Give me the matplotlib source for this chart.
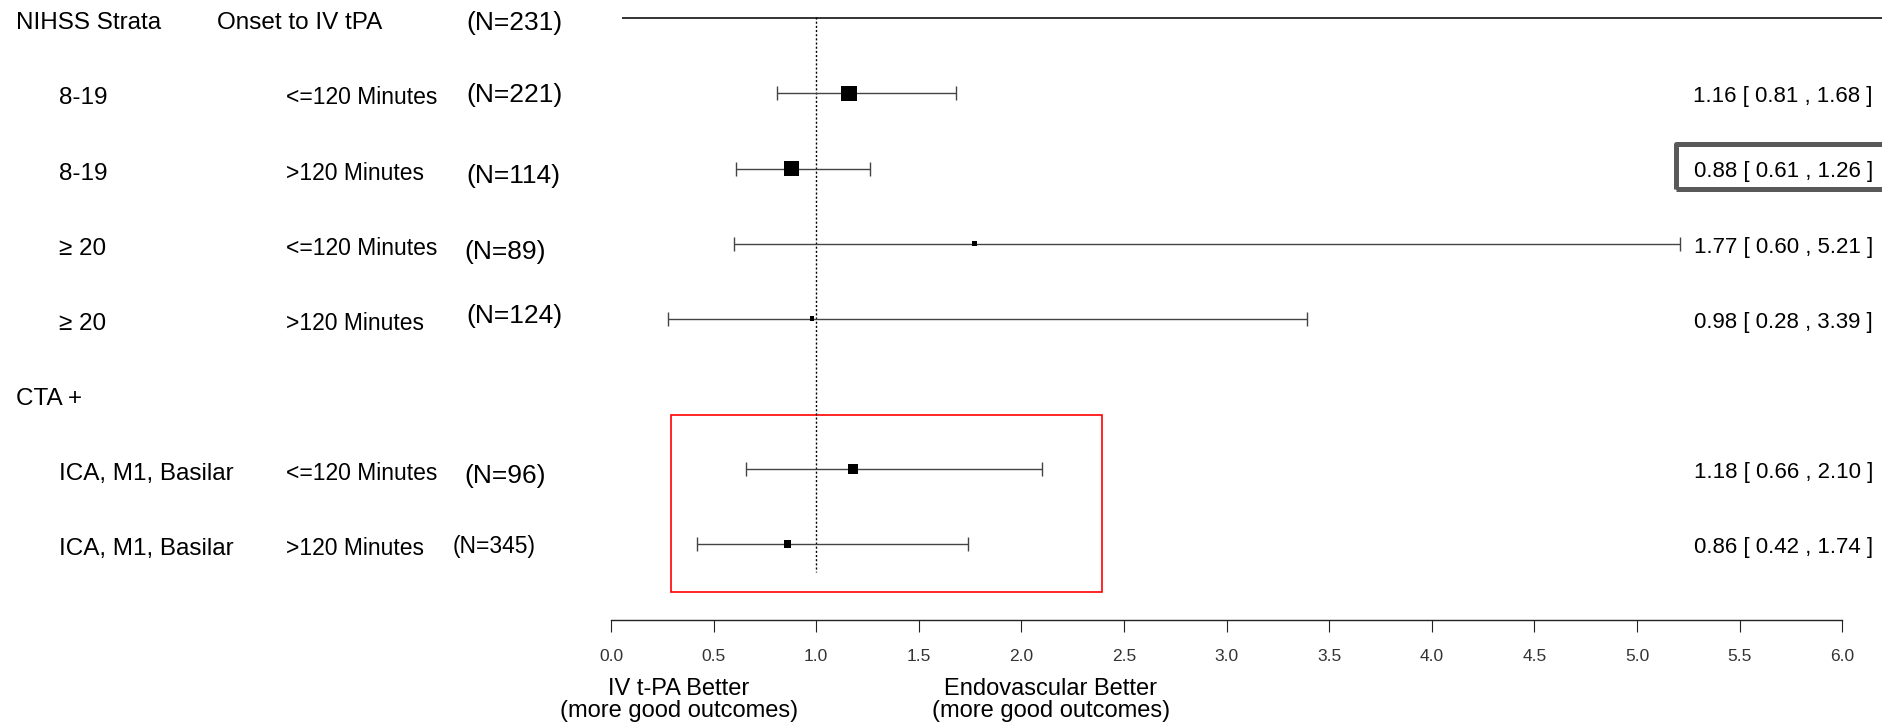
import numpy as np
import matplotlib.pyplot as plt
from matplotlib.patches import Rectangle
from matplotlib.transforms import Bbox, TransformedBbox, blended_transform_factory

plt.rcParams['font.family'] = ['Liberation Sans', 'DejaVu Sans']

## table columns
strata = ['8-19', '8-19', '\u2265 20', '\u2265 20', 'ICA, M1, Basilar', 'ICA, M1, Basilar']
onset = ['<=120 Minutes', '>120 Minutes', '<=120 Minutes', '>120 Minutes',
         '<=120 Minutes', '>120 Minutes']
n_labels = ['(N=221)', '(N=114)', '(N=89)', '(N=124)', '(N=96)', '(N=345)']
rows = [1, 2, 3, 4, 6, 7]

## odds ratios and 95% CI
est = [1.16, 0.88, 1.77, 0.98, 1.18, 0.86]
lo = [0.81, 0.61, 0.60, 0.28, 0.66, 0.42]
hi = [1.68, 1.26, 5.21, 3.39, 2.10, 1.74]

xticks = np.arange(0, 6.01, 0.5)

# layout (pixels of a 1883x728 canvas)
W, H = 1883, 728
x0_px, unit_px = 611, 205.2   # where 0 sits, px per unit
row0_px, row_px = 18.3, 75.1  # first row center, row spacing
n_dy = [8.4, 14.3, 15.7, 4.8, 13.9, 8.9]  # the N labels wander a bit
n_size = [19, 19, 19, 19, 19, 16.5]
n_x = [466, 466, 464, 466, 464, 453]

fig = plt.figure(figsize=(W / 100, H / 100), dpi=100)
ax = fig.add_axes([0, 0, 1, 1])
ax.set_xlim(-x0_px / unit_px, (W - x0_px) / unit_px)
ax.set_ylim((H - row0_px) / row_px, -row0_px / row_px)

def px2row(dy):
  return dy / row_px

trans = blended_transform_factory(fig.transFigure, ax.transData)
base = px2row(11.0)

## header
ax.text(15.6 / W, 0 + base, 'NIHSS Strata', transform=trans, fontsize=17.5, va='baseline')
ax.text(217 / W, 0 + base, 'Onset to IV tPA', transform=trans, fontsize=17.5, va='baseline')
ax.text(466 / W, 0 + px2row(11.8), '(N=231)', transform=trans, fontsize=19, va='baseline')
ax.text(15.6 / W, 5 + base, 'CTA +', transform=trans, fontsize=17.5, va='baseline')

# onset column gets cut off like in the original table
clip = TransformedBbox(Bbox([[0, 0], [446.5 / W, 1]]), fig.transFigure)

for i, r in enumerate(rows):
  ax.text(59 / W, r + base, strata[i], transform=trans, fontsize=17.5, va='baseline')
  t = ax.text(286 / W, r + base, onset[i], transform=trans, fontsize=16.5, va='baseline')
  t.set_clip_box(clip)
  t.set_clip_on(True)
  ax.text(n_x[i] / W, r + px2row(n_dy[i]), n_labels[i], transform=trans,
          fontsize=n_size[i], va='baseline')
  ax.text(1873 / W, r + px2row(9), '%.2f [ %.2f , %.2f ]' % (est[i], lo[i], hi[i]),
          transform=trans, fontsize=16, va='baseline', ha='right')

## overall line on top and the reference line
ax.plot([0.054, 6.5], [0, 0], color='#333333', lw=1.4, solid_capstyle='butt')
ax.plot([1, 1], [-0.02, px2row(572 - row0_px)], color='black', lw=1, ls=(0, (1.5, 1.5)))

## CIs and boxes (box size ~ 1/CI width like metafor)
est_a, lo_a, hi_a = np.array(est), np.array(lo), np.array(hi)
ax.errorbar(est_a, rows, xerr=[est_a - lo_a, hi_a - est_a], fmt='none',
            ecolor='#444444', elinewidth=1.0, capsize=4.7, capthick=1.0)
side_px = 11.2 / np.log(hi_a / lo_a)
ax.scatter(est_a, rows, marker='s', s=(side_px * 0.72) ** 2, color='black',
           linewidths=0, zorder=3)

## x axis
for s in ['left', 'right', 'top']:
  ax.spines[s].set_visible(False)
ax.spines['bottom'].set_position(('data', px2row(620 - row0_px)))
ax.spines['bottom'].set_bounds(0, 6)
ax.spines['bottom'].set_color('#222222')
ax.spines['bottom'].set_linewidth(1.0)
ax.set_xticks(xticks)
ax.set_xticklabels(['%.1f' % v for v in xticks])
ax.tick_params(axis='x', direction='out', length=8.6, width=0.8, pad=12.5,
               labelsize=12.5, colors='#222222', labelcolor='#333333')
ax.set_yticks([])

ax.text(0.33, px2row(695 - row0_px), 'IV t-PA Better', fontsize=17, ha='center', va='baseline')
ax.text(0.33, px2row(716.7 - row0_px), '(more good outcomes)', fontsize=17, ha='center', va='baseline')
ax.text(2.144, px2row(695 - row0_px), 'Endovascular Better', fontsize=17, ha='center', va='baseline')
ax.text(2.144, px2row(716.7 - row0_px), '(more good outcomes)', fontsize=17, ha='center', va='baseline')

## highlight boxes
ax.add_patch(Rectangle((0.292, px2row(415 - row0_px)), 2.393 - 0.292,
                       px2row(592 - 415), fill=False, edgecolor='#ff0000', lw=1.2))
fig.patches.append(Rectangle((1676.5 / W, 1 - 189.2 / H), 250 / W, 45 / H,
                             transform=fig.transFigure, fill=False,
                             edgecolor='#595959', lw=3.6, joinstyle='round'))

fig.savefig('out.png', dpi=100)
